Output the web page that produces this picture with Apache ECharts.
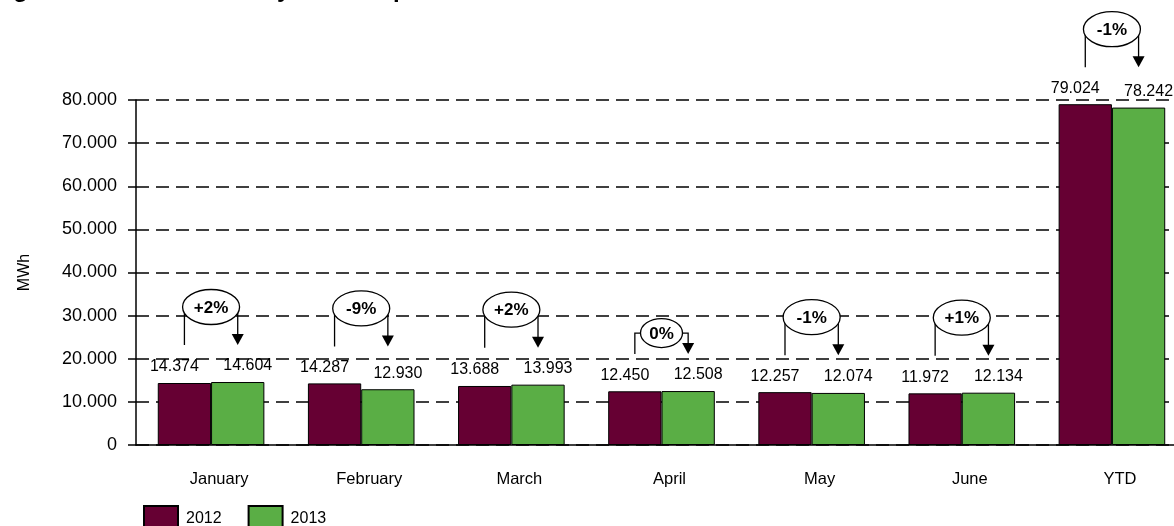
<!DOCTYPE html>
<html>
<head>
<meta charset="utf-8">
<script src="https://cdn.jsdelivr.net/npm/echarts@6/dist/echarts.min.js"></script>
<style>
  html, body { margin: 0; padding: 0; background: #fff; overflow: hidden; }
  #chart { width: 1187px; height: 526px; }
</style>
</head>
<body>
<div id="chart"></div>
<script>
const months = ['January', 'February', 'March', 'April', 'May', 'June', 'YTD'];
const values2012 = [14374, 14287, 13688, 12450, 12257, 11972, 79024];
const values2013 = [14604, 12930, 13993, 12508, 12074, 12134, 78242];
const changeLabels = ['+2%', '-9%', '+2%', '0%', '-1%', '+1%', '-1%'];

const FONT = "'Liberation Sans', Arial, sans-serif";
const GAP = 0.29; // barCategoryGap

// 14374 -> "14.374"
const fmt = (v) => {
  if (!v) return '0';
  const s = String(Math.round(v));
  return s.replace(/\B(?=(\d{3})+(?!\d))/g, '.');
};

// one bracket + ellipse + arrow per month
const renderChange = (params, api) => {
  const top = Math.max(api.value(1), api.value(2));
  const p = api.coord([api.value(0), top]);
  const catW = api.size([1, 0])[0];
  const bw = catW * (1 - GAP) / 2;
  const lx = p[0] - bw / 2;
  const rx = p[0] + bw / 2;
  const bottom = p[1] - 37;
  const text = changeLabels[params.dataIndex];
  const short = text.length <= 2;
  const cy = bottom - (short ? 21 : 38);
  const erx = short ? 21 : 28.5;
  const ery = short ? 14.5 : 17.5;
  const line = { stroke: '#000', lineWidth: 1.3, fill: null };
  return {
    type: 'group',
    children: [
      { type: 'polyline', shape: { points: [[lx, bottom], [lx, cy], [rx, cy], [rx, bottom - 10]] }, style: line },
      { type: 'ellipse', shape: { cx: p[0], cy: cy, rx: erx, ry: ery }, style: { fill: '#fff', stroke: '#000', lineWidth: 1.3 } },
      { type: 'text', x: p[0], y: cy + 1, style: { text: text, fill: '#000', font: 'bold 17px ' + FONT, align: 'center', verticalAlign: 'middle' } },
      { type: 'polygon', shape: { points: [[rx - 6, bottom - 11], [rx + 6, bottom - 11], [rx, bottom]] }, style: { fill: '#000' } }
    ]
  };
};

const chart = echarts.init(document.getElementById('chart'));
chart.setOption({
  animation: false,
  textStyle: { fontFamily: FONT },
  title: {
    text: 'Figure 12: Total Electricity Consumption',
    left: -8,
    top: -22,
    padding: 0,
    textStyle: { fontSize: 24, fontWeight: 'bold', color: '#000', lineHeight: 24 }
  },
  legend: {
    data: ['2012', '2013'],
    left: 143,
    top: 505,
    padding: 0,
    itemWidth: 34,
    itemHeight: 26,
    itemGap: 26,
    icon: 'rect',
    textStyle: { fontSize: 16, color: '#000', padding: [0, 0, 0, 3] }
  },
  grid: { left: 136, right: 0, top: 100, bottom: 81 },
  xAxis: {
    type: 'category',
    data: months,
    axisLine: { lineStyle: { color: '#000', width: 1.5 } },
    axisTick: { show: false },
    axisLabel: { color: '#000', fontSize: 16.5, margin: 26, padding: [0, 0, 0, 16] }
  },
  yAxis: {
    type: 'value',
    min: 0,
    max: 80000,
    interval: 10000,
    name: 'MWh',
    nameLocation: 'middle',
    nameRotate: 90,
    nameGap: 103,
    nameTextStyle: { color: '#000', fontSize: 16 },
    axisLine: { show: true, lineStyle: { color: '#000', width: 1.5 } },
    axisTick: { show: true, length: 8, lineStyle: { color: '#000', width: 1.5 } },
    axisLabel: { color: '#000', fontSize: 18, margin: 19, formatter: fmt },
    splitLine: { lineStyle: { color: '#000', width: 1.5, type: [13, 7] } }
  },
  series: [
    {
      name: '2012',
      type: 'bar',
      data: values2012,
      barGap: '0%',
      barCategoryGap: (GAP * 100) + '%',
      itemStyle: { color: '#660033', borderColor: '#000', borderWidth: 1 },
      label: { show: true, position: 'top', distance: 8, offset: [-10, 0], fontSize: 16, color: '#000', formatter: (p) => fmt(p.value) }
    },
    {
      name: '2013',
      type: 'bar',
      data: values2013,
      itemStyle: { color: '#5aae45', borderColor: '#000', borderWidth: 1 },
      label: { show: true, position: 'top', distance: 8, offset: [10, 0], fontSize: 16, color: '#000', formatter: (p) => fmt(p.value) }
    },
    {
      name: 'change',
      type: 'custom',
      clip: false,
      silent: true,
      z: 5,
      renderItem: renderChange,
      encode: { x: 0, y: [1, 2] },
      data: months.map((m, i) => [i, values2012[i], values2013[i]])
    }
  ]
});
</script>
</body>
</html>
